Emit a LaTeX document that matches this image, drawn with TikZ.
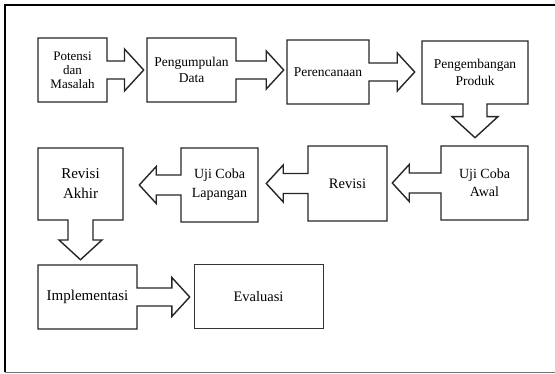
\documentclass[tikz,border=0pt]{standalone}
\usepackage{fontspec}
\setmainfont{Liberation Serif}
\usetikzlibrary{shapes.arrows}

\begin{document}
\begin{tikzpicture}[x=1pt,y=-1pt,
		stepbox/.style={arrow box,draw=black!85,fill=white,line width=1.4pt,inner sep=0pt,align=center,
			font=\fontsize{13.5}{16.5}\selectfont,arrow box shaft width=18pt,arrow box head extend=10pt,
			arrow box tip angle=95},
		endbox/.style={rectangle,draw=black!80,fill=white,line width=1pt,inner sep=0pt,align=center,
			font=\fontsize{13.5}{16.5}\selectfont}]
			\useasboundingbox (0,0) rectangle (555,374);
			\draw[line width=1.8pt] (5,372) -- (5,5) -- (560,5);
			\draw[black!55,line width=1pt] (5,372.5) -- (560,372.5);

			% baris atas
			\node[stepbox,minimum width=69pt,minimum height=64pt,arrow box head extend=12pt,arrow box arrows={east:36pt},font=\fontsize{13}{14}\selectfont] (potensi) at (72.5,70) {Potensi\\dan\\Masalah};
			\node[stepbox,minimum width=89pt,minimum height=64pt,arrow box arrows={east:47pt}] (data) at (191.5,70) {Pengumpulan\\Data};
			\node[stepbox,minimum width=82pt,minimum height=64pt,arrow box arrows={east:45pt}] (rencana) at (328,72) {Perencanaan};
			\node[stepbox,minimum width=106pt,minimum height=63pt,arrow box shaft width=24pt,arrow box head extend=11pt,arrow box arrows={south:33pt}] (produk) at (475,72.5) {Pengembangan\\Produk};

			% baris tengah
			\node[stepbox,minimum width=87pt,minimum height=74pt,arrow box shaft width=20pt,arrow box head extend=8.5pt,arrow box arrows={west:48pt},font=\fontsize{14}{18}\selectfont] (awal) at (484.5,183) {Uji Coba\\Awal};
			\node[stepbox,minimum width=79pt,minimum height=75pt,arrow box shaft width=20pt,arrow box head extend=8.5pt,arrow box arrows={west:41pt},font=\fontsize{14.5}{16}\selectfont] (revisi) at (347.5,183.5) {Revisi};
			\node[stepbox,minimum width=77pt,minimum height=74pt,arrow box shaft width=20pt,arrow box head extend=8.5pt,arrow box arrows={west:41pt},font=\fontsize{14}{19}\selectfont] (lapangan) at (219.5,185) {Uji Coba\\Lapangan};
			\node[stepbox,minimum width=85pt,minimum height=72pt,arrow box shaft width=25pt,arrow box head extend=9pt,arrow box arrows={south:39pt},font=\fontsize{15}{20}\selectfont] (akhir) at (80.5,184) {Revisi\\Akhir};

			% baris bawah
			\node[stepbox,minimum width=99pt,minimum height=64pt,arrow box head extend=10.5pt,arrow box arrows={east:52pt},font=\fontsize{15}{17}\selectfont] (implementasi) at (87.5,297) {Implementasi};
			\node[endbox,minimum width=129pt,minimum height=64pt,font=\fontsize{14.5}{16}\selectfont] (evaluasi) at (258.5,297) {Evaluasi};
		\end{tikzpicture}
\end{document}
